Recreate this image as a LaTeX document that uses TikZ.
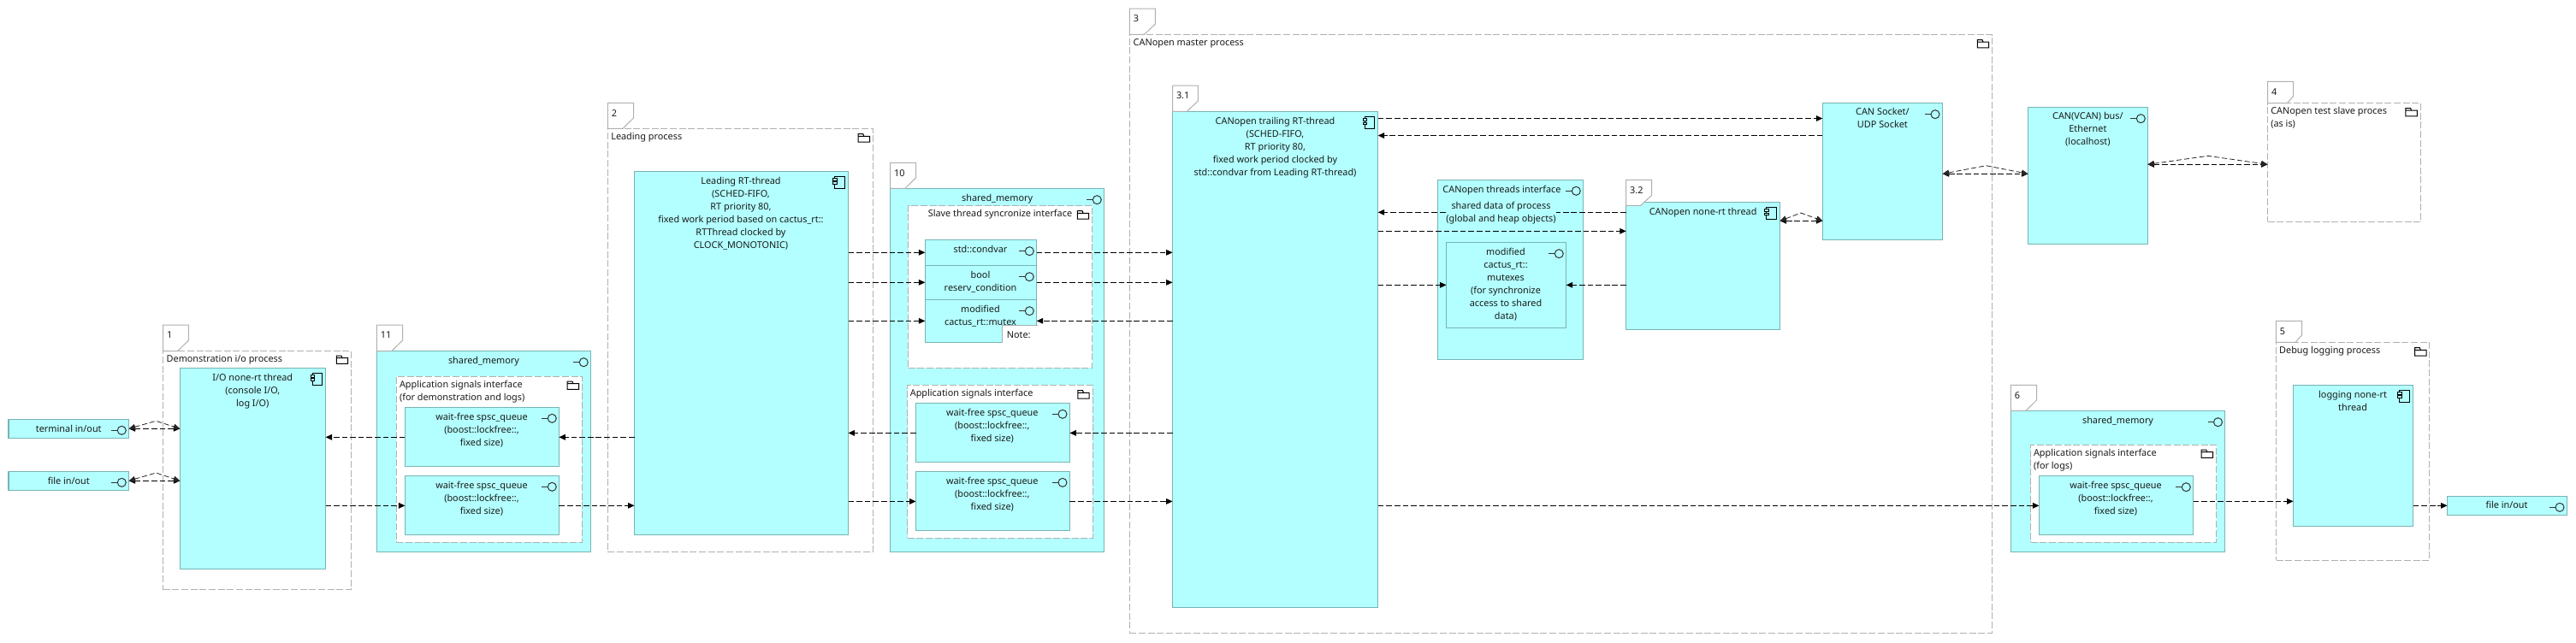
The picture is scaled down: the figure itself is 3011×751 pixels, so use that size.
\documentclass[tikz,border=0pt]{standalone}
\usepackage{fontspec}
\setmainfont{Noto Sans}
\usetikzlibrary{arrows.meta}
\definecolor{boxfill}{HTML}{B3FFFF}
\definecolor{boxline}{HTML}{78B4B4}
\definecolor{dashgray}{HTML}{B0B0B0}
\tikzset{
  tip/.tip={Triangle[length=5.6pt,width=5pt]},
  every node/.style={inner sep=0pt,outer sep=0pt},
  solidbox/.style={draw=boxline,line width=.85pt,fill=boxfill},
  procbox/.style={draw=dashgray,line width=.85pt,fill=white,dash pattern=on 6pt off 2pt},
  tabshape/.style={draw=dashgray,line width=.75pt,fill=white},
  lbl/.style={font=\fontsize{8.15}{11.25}\selectfont,text=black!90,align=center,anchor=north},
  lbll/.style={font=\fontsize{8.15}{11.25}\selectfont,text=black!90,align=left,anchor=north west},
  flow/.style={draw=black,line width=.75pt,dash pattern=on 5pt off 2.2pt},
  bent/.style={draw=black!85,line width=.6pt,dash pattern=on 4.5pt off 2.2pt},
  lolli/.pic={\draw[black!80,line width=.75pt] (-12,0) -- (-5,0); \draw[black!80,line width=.75pt] (0,0) circle[radius=5];},
  comp/.pic={\draw[black,line width=.75pt] (-5.5,-7) rectangle (6,7);
             \draw[black,line width=.75pt,fill=boxfill] (-7.5,-4.7) rectangle (-3.2,-2);
             \draw[black,line width=.75pt,fill=boxfill] (-7.5,-.3) rectangle (-3.2,2.4);},
  folder/.pic={\draw[black,line width=.75pt] (-6.7,4.7) -- (-6.7,-4.7) -- (-1,-4.7) -- (0,-2) -- (6.7,-2) -- (6.7,4.7) -- cycle (-6.7,-2) -- (0,-2);}
}
\newcommand\bx[6]{\pgfmathsetmacro\bxw{(#5-#3)*0.75}\pgfmathsetmacro\bxh{(#6-#4)*0.75}%
  \node[#2,anchor=north west,minimum width=\bxw pt,minimum height=\bxh pt] (#1) at (#3,#4) {};}
\newcommand\ctr[4]{\node[lbl] (#1) at (#2,{#3-7.5}) {\strut #4};}
\newcommand\lft[4]{\node[lbll] (#1) at (#2,{#3-7.5}) {\strut #4};}
% name, x1, ytop, x2, ybottom, notch-y, notch-x, label
\newcommand\tabm[8]{\draw[tabshape] (#2,#5) -- (#2,#3) -- (#4,#3) -- (#4,{#5-#6}) -- ({#4-#7},#5) -- cycle;
  \node[lbll] (#1) at ({#2+4.5},{#3+12.7-7.5}) {\strut #8};}
\begin{document}
\begin{tikzpicture}[x=0.75pt,y=-0.75pt]
\useasboundingbox (0,0) rectangle (3011,751);
\fill[white] (0,0) rectangle (3011,751);
% processes
\bx{pOne}{procbox}{190.5}{410.7}{410.5}{689.7}
\bx{pTwo}{procbox}{710.3}{150.4}{1020.5}{645.4}
\bx{pThree}{procbox}{1320.4}{40.4}{2328.3}{740.3}
\bx{pFour}{procbox}{2650.6}{120.7}{2829.6}{259.3}
\bx{pFive}{procbox}{2660.5}{400.3}{2839.7}{655.3}
% stand-alone boxes
\bx{term}{solidbox}{10}{490.3}{150.6}{512.7}
\bx{fileA}{solidbox}{10}{551.3}{150.6}{573.7}
\bx{io}{solidbox}{210.3}{430.3}{380.6}{665.3}
\bx{smA}{solidbox}{440.3}{410.7}{690.5}{645.3}
\bx{pkgA}{procbox}{463.3}{440.3}{680.4}{634.3}
\bx{qAa}{solidbox}{473.4}{476.3}{653.4}{545.3}
\bx{qAb}{solidbox}{473.4}{556.3}{653.4}{625.7}
\bx{lead}{solidbox}{741.5}{200.4}{991.5}{625.4}
\bx{smB}{solidbox}{1040.6}{220.4}{1290.6}{645.4}
\bx{pkgB}{procbox}{1061.7}{240.7}{1276.7}{430.3}
\bx{cond}{solidbox}{1081.3}{280.3}{1211.7}{310.3}
\bx{bool}{solidbox}{1081.3}{310.3}{1211.7}{350.3}
\bx{mtxA}{solidbox}{1081.3}{350.3}{1211.7}{400.3}
\bx{pkgC}{procbox}{1060.7}{450.4}{1277.2}{629.3}
\bx{qBa}{solidbox}{1070.5}{471.4}{1250.4}{540.7}
\bx{qBb}{solidbox}{1070.5}{551.4}{1250.4}{620.7}
\bx{tMain}{solidbox}{1370.5}{130.3}{1610.7}{710.3}
\bx{iface}{solidbox}{1680.4}{210.3}{1850.7}{420.3}
\bx{mtxB}{solidbox}{1690.5}{283.4}{1830.7}{383.3}
\bx{tNone}{solidbox}{1900.7}{236.3}{2080.6}{385.3}
\bx{sock}{solidbox}{2130.3}{120.3}{2270.6}{280.3}
\bx{bus}{solidbox}{2370.5}{125.3}{2510.3}{285.3}
\bx{smC}{solidbox}{2350.3}{480.3}{2600.7}{645.7}
\bx{pkgD}{procbox}{2373.5}{520.3}{2590.7}{634.3}
\bx{qC}{solidbox}{2383.4}{556.3}{2563.5}{625.3}
\bx{tLog}{solidbox}{2680.5}{450.3}{2820.6}{615.3}
\bx{fileB}{solidbox}{2860.5}{580.3}{3000.7}{602.3}
% text
\ctr{tTerm}{80.3}{502}{terminal in/out}
\ctr{tFileA}{80.3}{563}{file in/out}
\lft{tP1}{194.7}{420}{Demonstration i/o process}
\ctr{tIo}{295.3}{442}{I/O none-rt thread\\(console I/O,\\log  I/O)}
\ctr{tSmA}{565.5}{422}{shared\_memory}
\lft{tPkgA}{467}{450}{Application signals interface\\(for demonstration and logs)}
\ctr{tQAa}{563}{488.3}{wait-free spsc\_queue\\(boost::lockfree::,\\fixed size)}
\ctr{tQAb}{563}{568.3}{wait-free spsc\_queue\\(boost::lockfree::,\\fixed size)}
\lft{tP2}{714.3}{160}{Leading process}
\ctr{tLead}{866}{212}{Leading RT-thread\\(SCHED-FIFO,\\RT priority 80,\\fixed work period based on cactus\_rt::\\RTThread clocked by\\CLOCK\_MONOTONIC)}
\ctr{tSmB}{1165.6}{232}{shared\_memory}
\ctr{tPkgB}{1169}{250}{Slave thread syncronize interface}
\ctr{tCond}{1146}{292}{std::condvar}
\ctr{tBool}{1146}{322}{bool\\reserv\_condition}
\ctr{tMtxA}{1146}{362}{modified\\cactus\_rt::mutex}
\lft{tPkgC}{1063.8}{460}{Application signals interface}
\ctr{tQBa}{1159.8}{483}{wait-free spsc\_queue\\(boost::lockfree::,\\fixed size)}
\ctr{tQBb}{1159.8}{563}{wait-free spsc\_queue\\(boost::lockfree::,\\fixed size)}
\lft{tP3}{1324.7}{50}{CANopen master process}
\ctr{tMain2}{1490.5}{142}{CANopen trailing RT-thread\\(SCHED-FIFO,\\RT priority 80,\\fixed work period clocked by\\std::condvar from Leading RT-thread)}
\ctr{tIf}{1755.5}{222}{CANopen threads interface}
\ctr{tMtxB}{1760}{295}{modified\\cactus\_rt::\\mutexes\\(for synchronize\\access to shared\\data)}
\ctr{tNone2}{1990.6}{248}{CANopen none-rt thread}
\ctr{tSock}{2200.4}{131.7}{CAN Socket/\\UDP Socket}
\ctr{tBus}{2440.4}{136.7}{CAN(VCAN) bus/\\Ethernet\\(localhost)}
\lft{tP4}{2654.3}{130}{CANopen test slave proces\\(as is)}
\lft{tP5}{2664.2}{410.3}{Debug logging process}
\ctr{tSmC}{2475.5}{492}{shared\_memory}
\lft{tPkgD}{2377}{530}{Application signals interface\\(for logs)}
\ctr{tQC}{2473}{568.3}{wait-free spsc\_queue\\(boost::lockfree::,\\fixed size)}
\ctr{tLog2}{2750}{462}{logging none-rt\\thread}
\ctr{tFileB}{2930}{591.5}{file in/out}
% note overlay
\bx{note}{fill=white}{1171.7}{380.3}{1212.6}{400.8}
\draw[dashgray!80!boxline,line width=.75pt] (note.north east) -- (note.north west) -- (note.south west);
\node[lbl] (noteText) at (1190.7,{392.7-7.5}) {\strut Note:};
% tabs
\tabm{nOne}{190.5}{380}{220.4}{410.7}{12.7}{13}{1}
\tabm{nEleven}{440.3}{380}{470.6}{410.7}{12.7}{13}{11}
\tabm{nTwo}{710.3}{120.4}{740.6}{150.4}{12.5}{12.7}{2}
\tabm{nTen}{1040.6}{190.4}{1070.5}{220.4}{12.5}{12.7}{10}
\tabm{nThree}{1320.4}{10}{1350.4}{40.4}{12.4}{13}{3}
\tabm{nThreeOne}{1370.5}{100}{1400.4}{130.3}{12.4}{13}{3.1}
\tabm{nThreeTwo}{1900.7}{210.3}{1930.7}{240.3}{12}{13}{3.2}
\tabm{nFour}{2650.6}{95.3}{2680.7}{120.7}{8.4}{7.4}{4}
\tabm{nFive}{2660.4}{375.3}{2690.5}{400.3}{8.4}{7.4}{5}
\tabm{nSix}{2350.3}{450.3}{2380.7}{480.3}{12.5}{12.7}{6}
% icons
\foreach \px/\py in {142.3/503.3,142.3/564.3,682.2/423.7,645.3/489.3,645.3/569.3,1282.3/233.7,1203.3/293.7,1203.3/323.7,1203.3/363.7,1242/484.3,1242/564.3,1842.3/223.3,1822.3/296.7,2262/133.7,2502.3/138.7,2592.5/493.7,2555.3/569.7,2992/593.3}
  \pic at (\px,\py) {lolli};
\foreach \px/\py in {370.5/443,981.3/213.2,1600.5/143.3,2070.2/249.3,2810.2/463}
  \pic at (\px,\py) {comp};
\foreach \px/\py in {400/420.7,669.9/450.7,1009.8/161.3,1266/251.3,1266.5/461.3,2318/51.2,2818.6/131.2,2829.3/411.3,2579.8/530.7}
  \pic at (\px,\py) {folder};
% connectors
\draw[flow,-tip] (lead.west |- 0,511.3) -- (qAa.east |- 0,511.3);
\draw[flow,-tip] (qAa.west |- 0,511.3) -- (io.east |- 0,511.3);
\draw[flow,-tip] (io.east |- 0,591.3) -- (qAb.west |- 0,591.3);
\draw[flow,-tip] (qAb.east |- 0,591.3) -- (lead.west |- 0,591.3);
\draw[flow,-tip] (lead.east |- 0,295.3) -- (cond.west |- 0,295.3);
\draw[flow,-tip] (lead.east |- 0,330.3) -- (bool.west |- 0,330.3);
\draw[flow,-tip] (lead.east |- 0,375.3) -- (mtxA.west |- 0,375.3);
\draw[flow,-tip] (cond.east |- 0,295.3) -- (tMain.west |- 0,295.3);
\draw[flow,-tip] (bool.east |- 0,330.3) -- (tMain.west |- 0,330.3);
\draw[flow,-tip] (tMain.west |- 0,375.3) -- (mtxA.east |- 0,375.3);
\draw[flow,-tip] (qBa.west |- 0,506.4) -- (lead.east |- 0,506.4);
\draw[flow,-tip] (tMain.west |- 0,506.4) -- (qBa.east |- 0,506.4);
\draw[flow,-tip] (lead.east |- 0,586.4) -- (qBb.west |- 0,586.4);
\draw[flow,-tip] (qBb.east |- 0,586.4) -- (tMain.west |- 0,586.4);
\draw[flow,-tip] (tMain.east |- 0,138.5) -- (sock.west |- 0,138.5);
\draw[flow,-tip] (sock.west |- 0,158.5) -- (tMain.east |- 0,158.5);
\draw[flow,-tip] (tNone.west |- 0,248.3) -- (tMain.east |- 0,248.3);
\draw[flow,-tip] (tMain.east |- 0,270.3) -- (tNone.west |- 0,270.3);
\draw[flow,-tip] (tMain.east |- 0,333.3) -- (mtxB.west |- 0,333.3);
\draw[flow,-tip] (tNone.west |- 0,333.3) -- (mtxB.east |- 0,333.3);
\draw[flow,-tip] (tMain.east |- 0,591.3) -- (qC.west |- 0,591.3);
\draw[flow,-tip] (qC.east |- 0,586.3) -- (tLog.west |- 0,586.3);
\draw[flow,-tip] (tLog.east |- 0,591.3) -- (fileB.west |- 0,591.3);
% two-way pairs
\coordinate (apA) at (182.3,492.3);
\coordinate (apB) at (182.3,553);
\coordinate (apC) at (2105,249);
\coordinate (apD) at (2321.5,193.7);
\coordinate (apE) at (2580.8,182.3);
\draw[flow,tip-tip] (term.east |- 0,501.3) -- (io.west |- 0,501.3);
\draw[bent,tip-tip] (term.east |- 0,501.3) -- (apA) -- (io.west |- 0,501.3);
\draw[flow,tip-tip] (fileA.east |- 0,562.3) -- (io.west |- 0,562.3);
\draw[bent,tip-tip] (fileA.east |- 0,562.3) -- (apB) -- (io.west |- 0,562.3);
\draw[flow,tip-tip] (tNone.east |- 0,258.3) -- (sock.west |- 0,258.3);
\draw[bent,tip-tip] (tNone.east |- 0,258.3) -- (apC) -- (sock.west |- 0,258.3);
\draw[flow,tip-tip] (sock.east |- 0,203.3) -- (bus.west |- 0,203.3);
\draw[bent,tip-tip] (sock.east |- 0,203.3) -- (apD) -- (bus.west |- 0,203.3);
\draw[flow,tip-tip] (bus.east |- 0,192.3) -- (pFour.west |- 0,192.3);
\draw[bent,tip-tip] (bus.east |- 0,192.3) -- (apE) -- (pFour.west |- 0,192.3);
% label that hides the connector behind it
\node[lbl,fill=boxfill] (tShared) at (1754.5,{241-7.5}) {\strut shared data of process\\(global and heap objects)};
\end{tikzpicture}
\end{document}
